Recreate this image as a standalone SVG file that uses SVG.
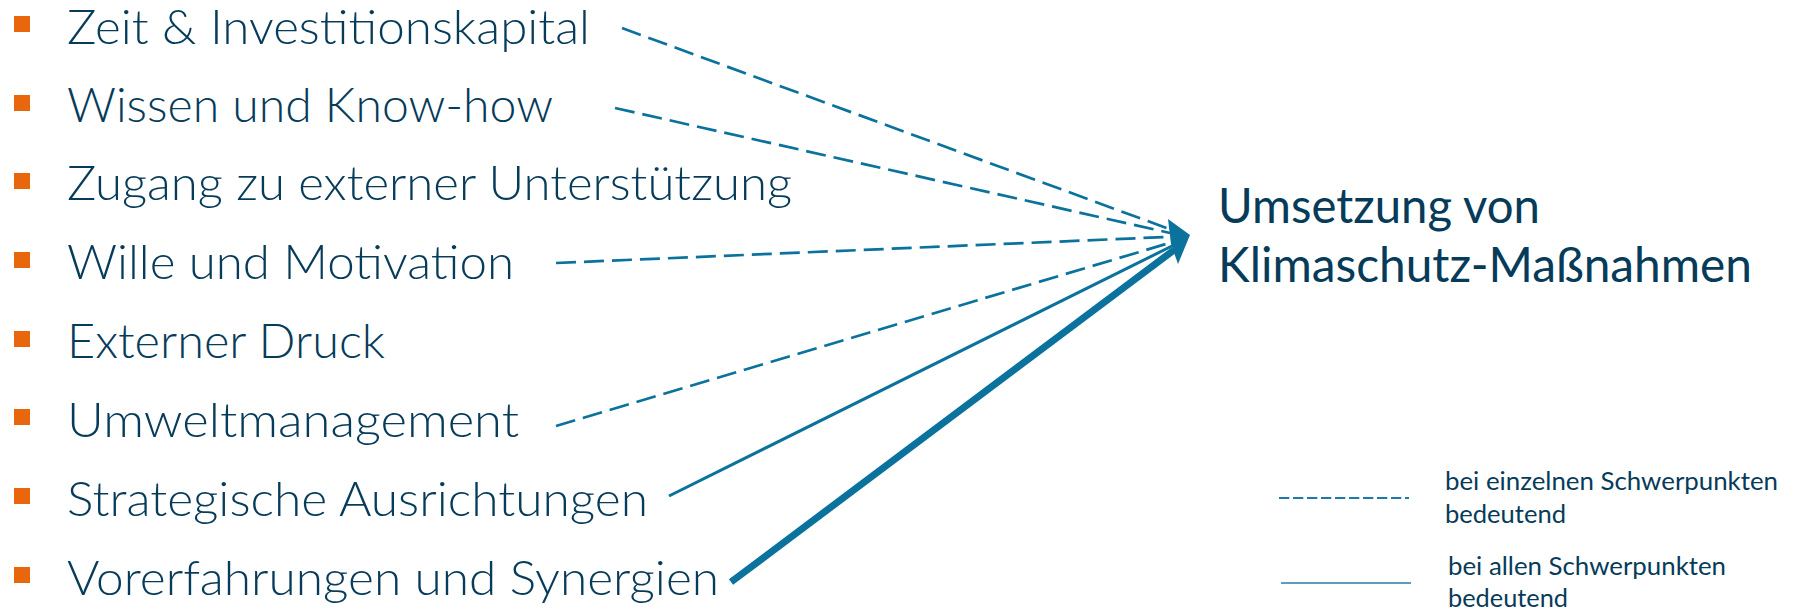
<svg xmlns="http://www.w3.org/2000/svg" width="1795" height="613" viewBox="0 0 1795 613">
  <style>
    .item { font-family: Lato, "Liberation Sans", sans-serif; font-weight: 300; font-size: 47px; fill: #073B5A; }
    .title { font-family: Lato, "Liberation Sans", sans-serif; font-weight: 400; font-size: 48px; fill: #073B5A; }
    .leg { font-family: Lato, "Liberation Sans", sans-serif; font-weight: 400; font-size: 25px; fill: #073B5A; }
    .bullet { fill: #E8670C; }
    .dash { fill: none; stroke: #0A729C; stroke-width: 2.7; stroke-dasharray: 20 8; }
    .solid { fill: none; stroke: #0A729C; stroke-width: 3; }
    .thick { fill: none; stroke: #0A729C; stroke-width: 7; }
  </style>
  <rect width="1795" height="613" fill="#FFFFFF"/>

  <g id="connectors">
    <line class="dash" x1="622" y1="28" x2="1172" y2="230"/>
    <line class="dash" x1="615" y1="108" x2="1170" y2="233"/>
    <line class="dash" x1="556" y1="263" x2="1166" y2="237"/>
    <line class="dash" x1="556" y1="426" x2="1166" y2="244"/>
    <line class="solid" x1="669" y1="496" x2="1174" y2="245"/>
    <line class="thick" x1="731" y1="582" x2="1174" y2="250"/>
    <polygon points="1190,235 1168,219 1171,244 1178,264" fill="#0A729C"/>
  </g>

  <g id="n1"><rect class="bullet" x="14" y="16" width="16" height="16"/><text class="item" x="67" y="44" textLength="523" lengthAdjust="spacingAndGlyphs">Zeit &amp; Investitionskapital</text></g>
  <g id="n2"><rect class="bullet" x="14" y="95" width="16" height="16"/><text class="item" x="67" y="122" textLength="486" lengthAdjust="spacingAndGlyphs">Wissen und Know-how</text></g>
  <g id="n3"><rect class="bullet" x="14" y="173" width="16" height="16"/><text class="item" x="67" y="200" textLength="725" lengthAdjust="spacingAndGlyphs">Zugang zu externer Unterstützung</text></g>
  <g id="n4"><rect class="bullet" x="14" y="252" width="16" height="16"/><text class="item" x="67" y="279" textLength="447" lengthAdjust="spacingAndGlyphs">Wille und Motivation</text></g>
  <g id="n5"><rect class="bullet" x="14" y="331" width="16" height="16"/><text class="item" x="67" y="358" textLength="318" lengthAdjust="spacingAndGlyphs">Externer Druck</text></g>
  <g id="n6"><rect class="bullet" x="14" y="409" width="16" height="16"/><text class="item" x="67" y="437" textLength="452" lengthAdjust="spacingAndGlyphs">Umweltmanagement</text></g>
  <g id="n7"><rect class="bullet" x="14" y="488" width="16" height="16"/><text class="item" x="67" y="516" textLength="581" lengthAdjust="spacingAndGlyphs">Strategische Ausrichtungen</text></g>
  <g id="n8"><rect class="bullet" x="14" y="567" width="16" height="16"/><text class="item" x="67" y="595" textLength="652" lengthAdjust="spacingAndGlyphs">Vorerfahrungen und Synergien</text></g>

  <g id="target">
    <text class="title" x="1218" y="223" textLength="322" lengthAdjust="spacingAndGlyphs">Umsetzung von</text>
    <text class="title" x="1218" y="282" textLength="534" lengthAdjust="spacingAndGlyphs">Klimaschutz-Maßnahmen</text>
  </g>

  <g id="legend">
    <line x1="1279" y1="498" x2="1409" y2="498" stroke="#1B7BA6" stroke-width="2" stroke-dasharray="10.3 3.7"/>
    <text class="leg" x="1445" y="490" textLength="333" lengthAdjust="spacingAndGlyphs">bei einzelnen Schwerpunkten</text>
    <text class="leg" x="1445" y="523" textLength="121" lengthAdjust="spacingAndGlyphs">bedeutend</text>
    <line x1="1281" y1="583" x2="1411" y2="583" stroke="#5A9EBD" stroke-width="2.2"/>
    <text class="leg" x="1448" y="575" textLength="278" lengthAdjust="spacingAndGlyphs">bei allen Schwerpunkten</text>
    <text class="leg" x="1448" y="607" textLength="120" lengthAdjust="spacingAndGlyphs">bedeutend</text>
  </g>
</svg>
